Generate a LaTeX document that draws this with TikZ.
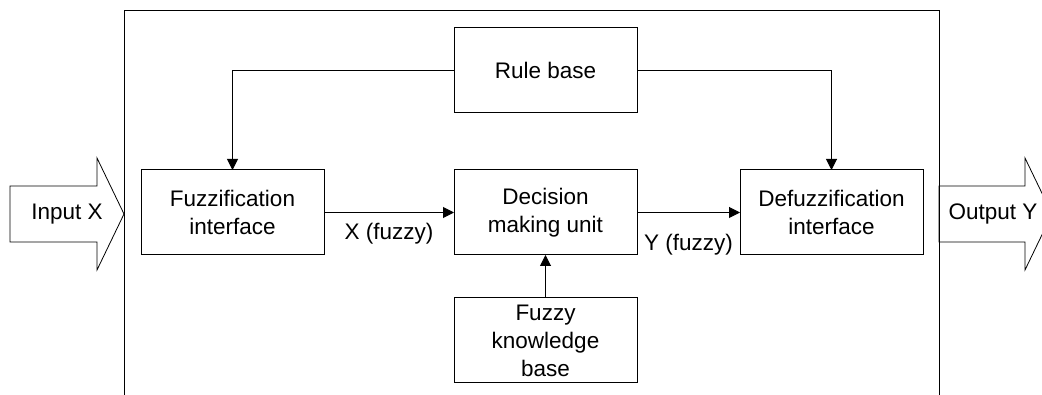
\documentclass[tikz,border=0pt]{standalone}
\usepackage{fontspec}
\setmainfont{Liberation Sans}
\usetikzlibrary{positioning, arrows.meta}
\tikzset{>={Triangle[length=11pt,width=11pt]}, x=1pt, y=1pt,
  block/.style={draw, line width=1pt, minimum width=183pt, minimum height=85pt,
    inner sep=1pt, outer sep=0pt, align=center},
  flow/.style={->, line width=1pt}}

\begin{document}
\begin{tikzpicture}[font=\fontsize{22.5}{28}\selectfont]
\useasboundingbox (0,0) rectangle (1042,-395);
% system frame
\draw[line width=1pt] (124,-420) -- (124,-11) -- (939,-11) -- (939,-420);
% in / out arrows
\draw[line width=0.8pt] (10,-186) -- (97,-186) -- (97,-158) -- (124,-214)
  -- (97,-270) -- (97,-242) -- (10,-242) -- cycle;
\draw[line width=0.8pt] (939,-186) -- (1025,-186) -- (1025,-158) -- (1052,-214)
  -- (1025,-270) -- (1025,-242) -- (939,-242) -- cycle;
\node (inx) at (67,-214) {Input X};
\node (outy) at (993,-214) {Output Y};

\node[block] (dmu) at (545.5,-212.5) {Decision\\making unit};
\node[block, left=130pt of dmu] (fuzz) {Fuzzification\\interface};
\node[block, right=103pt of dmu] (defuzz) {Defuzzification\\interface};
\node[block, above=57pt of dmu] (rules) {Rule base};
\node[block, below=43pt of dmu] (kb) {Fuzzy\\knowledge\\base};

\draw[flow] (fuzz) -- node[below, yshift=-7pt] {X (fuzzy)} (dmu);
\draw[flow] (dmu) -- node[below, yshift=-18pt] {Y (fuzzy)} (defuzz);
\draw[flow] (kb) -- (dmu);
\draw[flow] (rules.west) -| (fuzz.north);
\draw[flow] (rules.east) -| (defuzz.north);

\end{tikzpicture}
\end{document}
